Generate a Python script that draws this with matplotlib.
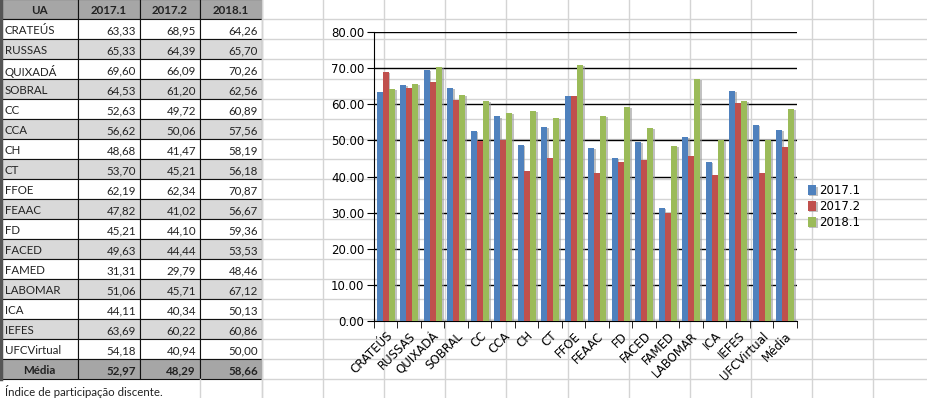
import matplotlib
matplotlib.use("Agg")
import matplotlib.pyplot as plt
import matplotlib.patheffects as pe
from matplotlib.patches import Rectangle
import numpy as np

# -------------------------------------------------
# Data
# -------------------------------------------------
units = ["CRATEÚS", "RUSSAS", "QUIXADÁ", "SOBRAL", "CC", "CCA", "CH", "CT",
         "FFOE", "FEAAC", "FD", "FACED", "FAMED", "LABOMAR", "ICA", "IEFES",
         "UFCVirtual", "Média"]
s2017_1 = [63.33, 65.33, 69.60, 64.53, 52.63, 56.62, 48.68, 53.70, 62.19,
           47.82, 45.21, 49.63, 31.31, 51.06, 44.11, 63.69, 54.18, 52.97]
s2017_2 = [68.95, 64.39, 66.09, 61.20, 49.72, 50.06, 41.47, 45.21, 62.34,
           41.02, 44.10, 44.44, 29.79, 45.71, 40.34, 60.22, 40.94, 48.29]
s2018_1 = [64.26, 65.70, 70.26, 62.56, 60.89, 57.56, 58.19, 56.18, 70.87,
           56.67, 59.36, 53.53, 48.46, 67.12, 50.13, 60.86, 50.00, 58.66]
series_names = ["2017.1", "2017.2", "2018.1"]
header = ["UA"] + series_names
note = "Índice de participação discente."

colors = ["#4f81bd", "#c0504d", "#9bbb59"]

W, H = 928, 398
fig = plt.figure(figsize=(W / 100, H / 100), dpi=100)

# -------------------------------------------------
# Spreadsheet background (pixel coordinates)
# -------------------------------------------------
bg = fig.add_axes([0, 0, 1, 1])
bg.set_xlim(0, W)
bg.set_ylim(H, 0)
bg.axis("off")

grid_c = "#d4d4d4"
for x in np.arange(262, W, 61.1):
    bg.plot([x, x], [0, H], color=grid_c, lw=1)
for y in np.arange(19, H, 20):
    bg.plot([262, W], [y, y], color=grid_c, lw=1)

col_x = [0, 78, 140, 200, 262]
row_h = 20
top = -1
fs_tab = 8.3

def cell_row(i, texts, fill, bold=False, center_all=False):
    y0 = top + i * row_h
    for c in range(4):
        x0, x1 = col_x[c], col_x[c + 1]
        bg.add_patch(Rectangle((x0, y0), x1 - x0, row_h, facecolor=fill,
                               edgecolor="#111111", lw=0.8))
        t = texts[c]
        yc = y0 + row_h / 2 + 2
        if center_all or (bold and c == 0):
            bg.text((x0 + x1) / 2, yc, t, ha="center", va="center",
                    fontsize=fs_tab, family="Lato",
                    weight="bold" if bold else "normal", color="#222222")
        elif c == 0:
            bg.text(x0 + 5, yc, t, ha="left", va="center", fontsize=fs_tab,
                    family="Lato", color="#222222")
        else:
            bg.text(x1 - 4, yc, t, ha="right", va="center", fontsize=fs_tab,
                    family="Lato", weight="bold" if bold else "normal",
                    color="#222222")

def fmt(v):
    return f"{v:.2f}".replace(".", ",")

cell_row(0, header, "#a6a6a6", bold=True, center_all=True)
for i, name in enumerate(units):
    vals = [fmt(s2017_1[i]), fmt(s2017_2[i]), fmt(s2018_1[i])]
    if name == "Média":
        cell_row(i + 1, [name] + vals, "#a6a6a6", bold=True)
    else:
        fill = "white" if i % 2 == 0 else "#d9d9d9"
        cell_row(i + 1, [name] + vals, fill)

# left edge of the table
bg.plot([1, 1], [0, top + (len(units) + 1) * row_h], color="#555555", lw=2.5)

# note row
ny = top + (len(units) + 1) * row_h
bg.plot([200, 200], [ny, H], color=grid_c, lw=1)
bg.plot([262, 262], [ny, H], color=grid_c, lw=1)
bg.text(5, ny + 12, note, ha="left", va="center", fontsize=fs_tab,
        family="Lato", color="#222222")

# -------------------------------------------------
# Chart
# -------------------------------------------------
left, right, ytop, ybot = 374, 797, 32, 321
ax = fig.add_axes([left / W, 1 - ybot / H, (right - left) / W,
                   (ybot - ytop) / H])
ax.patch.set_alpha(0)

x = np.arange(len(units))
bw = 0.26
shadow = [pe.SimplePatchShadow(offset=(1.2, -0.8), shadow_rgbFace="#999999",
                               alpha=0.6), pe.Normal()]
for k, vals in enumerate([s2017_1, s2017_2, s2018_1]):
    bars = ax.bar(x + (k - 1) * bw, vals, bw, color=colors[k],
                  label=series_names[k], zorder=3)
    for b in bars:
        b.set_path_effects(shadow)

ax.set_ylim(0, 80)
ax.set_xlim(-0.5, len(units) - 0.5)
ax.set_yticks(np.arange(0, 81, 10))
ax.set_yticklabels([f"{v:.2f}" for v in np.arange(0, 81, 10)])
ax.yaxis.grid(True, color="black", lw=1, zorder=1)
ax.set_axisbelow(True)

ax.set_xticks(x)
ax.set_xticklabels(units, rotation=45, ha="right", rotation_mode="anchor")
ax.set_xticks(np.arange(-0.5, len(units), 1), minor=True)
ax.tick_params(axis="x", which="major", length=0, pad=6, labelsize=8.5)
ax.tick_params(axis="x", which="minor", length=5, direction="out")
ax.tick_params(axis="y", length=5, direction="out", labelsize=8.5, pad=2)

for s in ["top", "right"]:
    ax.spines[s].set_visible(False)
ax.spines["left"].set_color("black")
ax.spines["bottom"].set_color("black")

ax.legend(loc="center left", bbox_to_anchor=(1.025, 0.395), frameon=False,
          fontsize=8.5, handlelength=0.7, handleheight=0.9,
          handletextpad=0.3, labelspacing=0.25, borderaxespad=0,
          borderpad=0)

plt.savefig("out.png", dpi=100)
